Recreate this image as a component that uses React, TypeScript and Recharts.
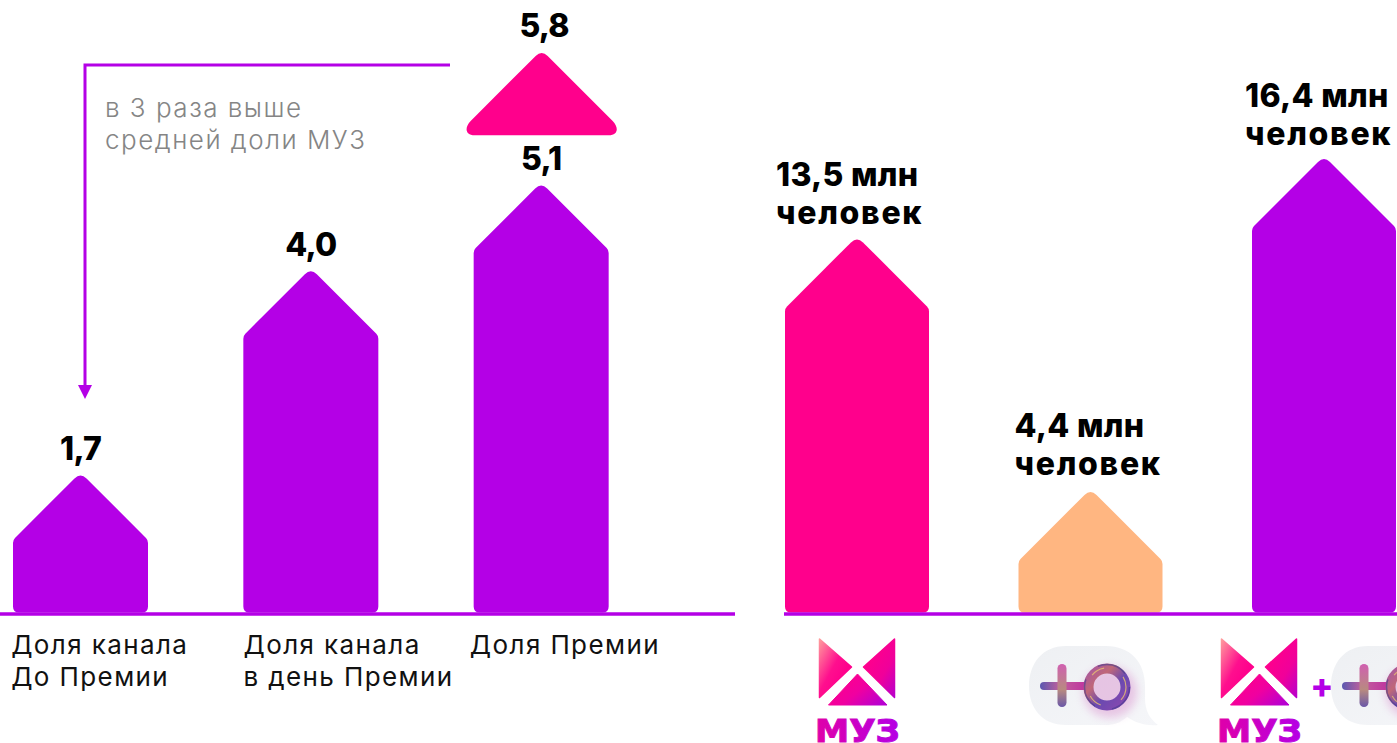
import React from "react";
import { BarChart, Bar, XAxis, YAxis, LabelList } from "recharts";

// Left panel: bar heights as drawn in the picture, labels as printed on it
const shareCategories = ["Доля канала|До Премии", "Доля канала|в день Премии", "Доля Премии"];
const shareHeights = [1.65, 4.08, 5.1];
const shareLabels = ["1,7", "4,0", "5,1"];
const peakGaps = [0, 0, 0.6];
const peakHeights = [0, 0, 0.98];
const peakLabels = ["", "", "5,8"];
const noteLines = ["в 3 раза выше", "средней доли МУЗ"];

// Right panel
const audienceCategories = ["МУЗ", "Подруга", "МУЗ + Подруга"];
const audienceValues = [13.5, 4.4, 16.4];
const audienceLabels = ["13,5 млн|человек", "4,4 млн|человек", "16,4 млн|человек"];

const shareData = shareCategories.map((category, i) => ({
  category,
  value: shareHeights[i],
  label: shareLabels[i],
  gap: peakGaps[i],
  peak: peakHeights[i],
  peakLabel: peakLabels[i],
}));
const audienceData = audienceCategories.map((category, i) => ({
  category,
  value: audienceValues[i],
  label: audienceLabels[i],
}));

const PURPLE = "#b400e6";
const PINK = "#ff008c";
const PEACH = "#ffb681";
const audienceColors = [PINK, PEACH, PURPLE];
const BASE_Y = 614;
const FONT = "Inter, 'Noto Sans', sans-serif";
const RIGHT_CHART_LEFT = 760;

function House(props: any) {
  const { x, y, width, height, fill } = props;
  if (!height || height <= 0) return null;
  const cx = x + width / 2;
  const right = x + width;
  const bottom = y + height - 1.5;
  const apex = y - 3;
  const shoulder = apex + width / 2;
  const d = [
    `M${x} ${bottom - 6}`,
    `L${x} ${shoulder + 3}`,
    `Q${x} ${shoulder} ${x + 2} ${shoulder - 2}`,
    `L${cx - 6} ${apex + 6}`,
    `Q${cx} ${apex} ${cx + 6} ${apex + 6}`,
    `L${right - 2} ${shoulder - 2}`,
    `Q${right} ${shoulder} ${right} ${shoulder + 3}`,
    `L${right} ${bottom - 6}`,
    `Q${right} ${bottom} ${right - 6} ${bottom}`,
    `L${x + 6} ${bottom}`,
    `Q${x} ${bottom} ${x} ${bottom - 6}`,
    "Z",
  ].join(" ");
  return <path d={d} fill={fill} />;
}

function Peak(props: any) {
  const { x, y, width, height, fill } = props;
  if (!height || height <= 0) return null;
  const cx = x + width / 2 + 0.5;
  const bottom = y + height;
  const apex = y - 3;
  const d = [
    `M${cx - 6} ${apex + 6}`,
    `Q${cx} ${apex} ${cx + 6} ${apex + 6}`,
    `L${cx + 71} ${apex + 71}`,
    `C${cx + 77} ${apex + 77} ${cx + 77} ${bottom} ${cx + 67} ${bottom}`,
    `L${cx - 67} ${bottom}`,
    `C${cx - 77} ${bottom} ${cx - 77} ${apex + 77} ${cx - 71} ${apex + 71}`,
    "Z",
  ].join(" ");
  return <path d={d} fill={fill} />;
}

function AudienceBar(props: any) {
  return <House {...props} fill={audienceColors[props.index]} />;
}

function ValueLabel(props: any) {
  const { x, y, width, value, dx = 0 } = props;
  if (!value) return null;
  return (
    <text
      x={x + width / 2 + dx}
      y={y - 27}
      textAnchor="middle"
      dominantBaseline="central"
      fontFamily={FONT}
      fontWeight={800}
      fontSize={32}
      letterSpacing={-0.8}
      fill="#000"
    >
      {value}
    </text>
  );
}

const audienceLabelNudge = [-9, -4, -7];
const audienceLabelRise = [65, 67, 64];
const audienceLineSpacing = [0.3, 1.7];
const shareTickNudge = [0, 2, -2];

function AudienceLabel(props: any) {
  const { x, y, value, index } = props;
  const lines = String(value).split("|");
  return (
    <text fontFamily={FONT} fontWeight={800} fontSize={32} fill="#000" dominantBaseline="central">
      {lines.map((line, i) => (
        <tspan
          key={i}
          x={x + audienceLabelNudge[index]}
          y={y - audienceLabelRise[index] + i * 38}
          letterSpacing={audienceLineSpacing[i]}
        >
          {line}
        </tspan>
      ))}
    </text>
  );
}

function ShareTick(props: any) {
  const { x, payload, index } = props;
  const lines = String(payload.value).split("|");
  return (
    <text fontFamily={FONT} fontSize={26} fill="#111" dominantBaseline="central" letterSpacing={1.4}>
      {lines.map((line, i) => (
        <tspan key={i} x={x - 69 + shareTickNudge[index]} y={BASE_Y + 30 + i * 32}>
          {line}
        </tspan>
      ))}
    </text>
  );
}

function MuzLogo({ x }: { x: number }) {
  return (
    <g transform={`translate(${x} 0)`}>
      <path d="M0.5 639 L32.5 667 L0.5 697.5 Z" fill="url(#logoLeft)" stroke="url(#logoLeft)" strokeWidth={1.5} strokeLinejoin="round" />
      <path d="M75.5 639 L44.5 667 L75.5 697.5 Z" fill="url(#logoRight)" stroke="url(#logoRight)" strokeWidth={1.5} strokeLinejoin="round" />
      <path d="M38.5 674 L68 705 L9.5 705 Z" fill="url(#logoBottom)" stroke="url(#logoBottom)" strokeWidth={1} strokeLinejoin="round" />
      <text
        x={-4}
        y={742}
        fontFamily="'DejaVu Sans', sans-serif"
        fontWeight={700}
        fontSize={32}
        fill="url(#logoText)"
        stroke="url(#logoText)"
        strokeWidth={1}
        textLength={85}
        lengthAdjust="spacingAndGlyphs"
      >
        МУЗ
      </text>
    </g>
  );
}

function Bubble({ x }: { x: number }) {
  return (
    <g transform={`translate(${x} 0)`}>
      <path
        d="M40 646 L80 646 C104 646 119 662 119 686 L119 698 C119 711 124 719 132 725 C120 726 110 723 101 717 C94 723 88 725 80 725 L40 725 C16 725 3 708 3 686 C3 664 16 646 40 646 Z"
        fill="url(#bubbleFill)"
      />
      <ellipse cx={84} cy={692} rx={27} ry={26} fill="#d070c0" opacity={0.35} filter="url(#soft)" />
      <rect x={14} y={682} width={50} height={8} rx={4} fill="url(#glyphH)" />
      <rect x={31.5} y={664} width={9} height={43} rx={4.5} fill="url(#glyphV)" />
      <circle cx={81} cy={687} r={18.5} fill="none" stroke="url(#glyphRing)" strokeWidth={10} />
      <circle cx={81} cy={687} r={19} fill="none" stroke="#e8c070" strokeWidth={1.2} strokeDasharray="14 22" opacity={0.8} />
      <circle cx={81} cy={687} r={22.5} fill="none" stroke="#3c3a8c" strokeWidth={1.5} strokeDasharray="30 18" opacity={0.55} />
    </g>
  );
}

function AudienceTick(props: any) {
  const { index } = props;
  if (index === 0) return <MuzLogo x={819} />;
  if (index === 1) return <Bubble x={1026} />;
  return (
    <g>
      <MuzLogo x={1221} />
      <text
        x={1322}
        y={685}
        textAnchor="middle"
        dominantBaseline="central"
        fontFamily={FONT}
        fontWeight={800}
        fontSize={34}
        fill={PURPLE}
      >
        +
      </text>
      <Bubble x={1328} />
    </g>
  );
}

function Defs() {
  return (
    <defs>
      <filter id="soft" x="-30%" y="-30%" width="160%" height="160%">
        <feGaussianBlur stdDeviation="4" />
      </filter>
      <linearGradient id="logoLeft" x1="0" y1="0" x2="0.7" y2="0.7">
        <stop offset="0" stopColor="#ff9c9c" />
        <stop offset="0.65" stopColor="#ff0f8e" />
        <stop offset="1" stopColor="#ff008c" />
      </linearGradient>
      <linearGradient id="logoRight" x1="0.3" y1="0.2" x2="1" y2="1">
        <stop offset="0" stopColor="#ff008c" />
        <stop offset="0.5" stopColor="#f0009a" />
        <stop offset="1" stopColor="#b800cc" />
      </linearGradient>
      <linearGradient id="logoBottom" x1="0.1" y1="0.2" x2="1" y2="0.8">
        <stop offset="0" stopColor="#ff008c" />
        <stop offset="0.5" stopColor="#f000a0" />
        <stop offset="1" stopColor="#b800d0" />
      </linearGradient>
      <linearGradient id="logoText" x1="0" y1="0" x2="1" y2="0">
        <stop offset="0" stopColor="#e000a8" />
        <stop offset="1" stopColor="#b400e6" />
      </linearGradient>
      <linearGradient id="bubbleFill" x1="0" y1="0" x2="1" y2="1">
        <stop offset="0" stopColor="#eef0f3" />
        <stop offset="1" stopColor="#f5f6f9" />
      </linearGradient>
      <linearGradient id="glyphH" x1="0" y1="0" x2="1" y2="0">
        <stop offset="0" stopColor="#5a58b0" />
        <stop offset="0.4" stopColor="#c0609c" />
        <stop offset="1" stopColor="#c02ca0" />
      </linearGradient>
      <linearGradient id="glyphV" x1="0" y1="0" x2="0" y2="1">
        <stop offset="0" stopColor="#d060b0" />
        <stop offset="0.6" stopColor="#b88a80" />
        <stop offset="1" stopColor="#6a58a8" />
      </linearGradient>
      <linearGradient id="glyphRing" x1="0" y1="0" x2="1" y2="1">
        <stop offset="0" stopColor="#a858a0" />
        <stop offset="0.3" stopColor="#c06878" />
        <stop offset="0.6" stopColor="#6a4ab0" />
        <stop offset="1" stopColor="#8a48b0" />
      </linearGradient>
    </defs>
  );
}

export default function App() {
  return (
    <div style={{ position: "absolute", left: 0, top: 0, width: 1397, height: 743, overflow: "hidden", background: "#fff" }}>
      <div style={{ position: "absolute", left: 0, top: 0 }}>
        <BarChart width={735} height={743} data={shareData} margin={{ top: 0, right: 0, bottom: 0, left: 0 }} barSize={135}>
          <XAxis
            dataKey="category"
            height={129}
            padding={{ left: -35, right: 79 }}
            axisLine={{ stroke: PURPLE, strokeWidth: 3.5 }}
            tickLine={false}
            interval={0}
            tick={<ShareTick />}
          />
          <YAxis hide domain={[0, 614 / 84]} />
          <Bar dataKey="value" stackId="a" fill={PURPLE} shape={<House />} isAnimationActive={false}>
            <LabelList dataKey="label" content={<ValueLabel />} />
          </Bar>
          <Bar dataKey="gap" stackId="a" fill="none" isAnimationActive={false} />
          <Bar dataKey="peak" stackId="a" fill={PINK} shape={<Peak />} isAnimationActive={false}>
            <LabelList dataKey="peakLabel" content={(p: any) => <ValueLabel {...p} dx={3} />} />
          </Bar>
          <g>
            <path d="M450 65 L85 65 L85 386" fill="none" stroke={PURPLE} strokeWidth={3} />
            <path d="M78 385 L92 385 L85 399 Z" fill={PURPLE} />
            <text fontFamily={FONT} fontWeight={300} fontSize={26} fill="#858585" dominantBaseline="central" letterSpacing={1.5}>
              {noteLines.map((line, i) => (
                <tspan key={i} x={105} y={107 + i * 32}>
                  {line}
                </tspan>
              ))}
            </text>
          </g>
        </BarChart>
      </div>
      <div style={{ position: "absolute", left: RIGHT_CHART_LEFT, top: 0 }}>
        <BarChart
          width={1397 - RIGHT_CHART_LEFT}
          height={743}
          data={audienceData}
          margin={{ top: 0, right: 0, bottom: 0, left: 784 - RIGHT_CHART_LEFT }}
          barSize={144}
        >
          <XAxis
            dataKey="category"
            height={129}
            padding={{ left: -44, right: -43.5 }}
            axisLine={{ stroke: PURPLE, strokeWidth: 3.5 }}
            tickLine={false}
            interval={0}
            tick={(p: any) => (
              <g transform={`translate(${-RIGHT_CHART_LEFT} 0)`}>
                <AudienceTick {...p} />
              </g>
            )}
          />
          <YAxis hide domain={[0, 614 / 27.75]} />
          <Defs />
          <Bar dataKey="value" fill={PURPLE} shape={<AudienceBar />} isAnimationActive={false}>
            <LabelList dataKey="label" content={<AudienceLabel />} />
          </Bar>
        </BarChart>
      </div>
    </div>
  );
}
